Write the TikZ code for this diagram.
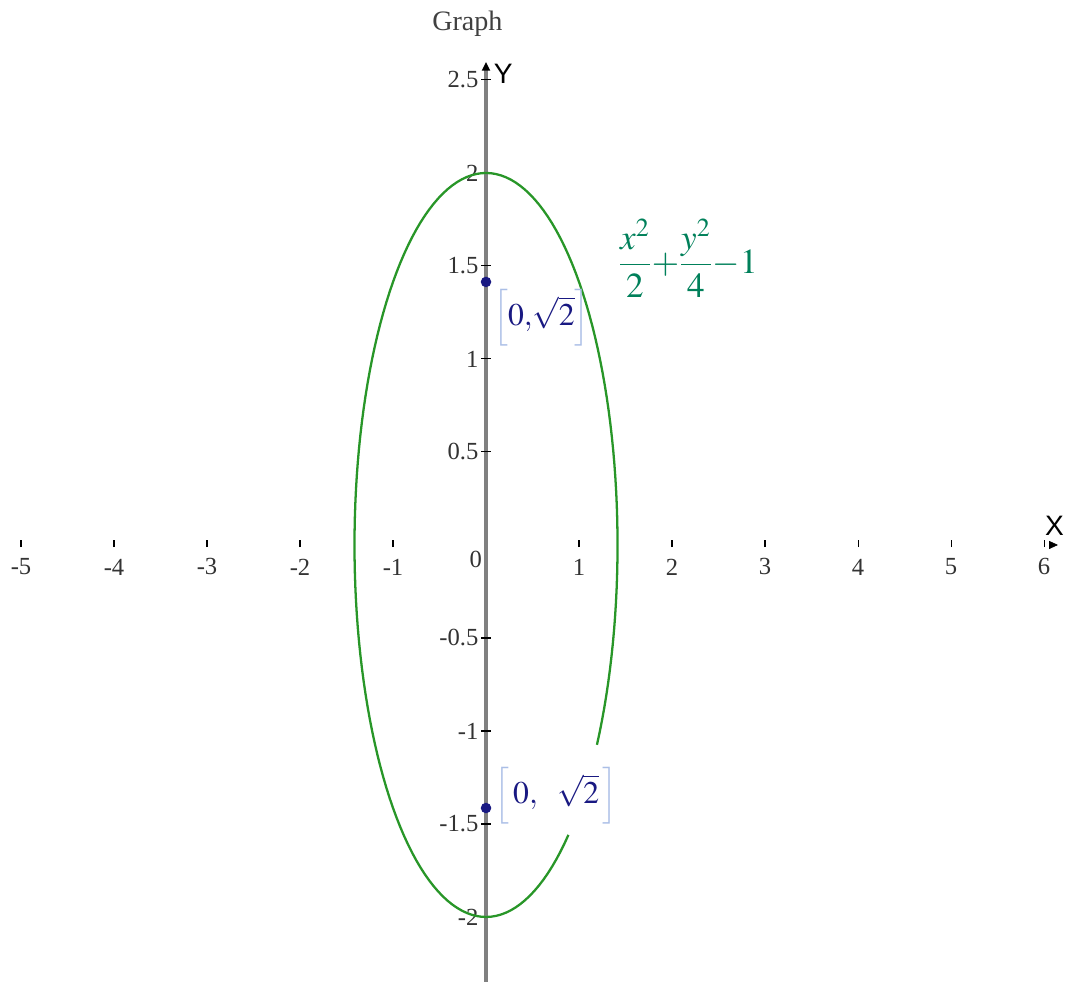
\documentclass[tikz,border=0pt]{standalone}
\usepackage{amsmath}
\usepackage{mathptmx}
\usepackage{fontspec}
\setmainfont{Liberation Serif}
\newfontfamily\axisfont{Liberation Sans}
\usepackage{xcolor}
\usetikzlibrary{positioning, arrows.meta}

\definecolor{axisgray}{RGB}{128,128,128}
\definecolor{ellgreen}{RGB}{40,150,40}
\definecolor{eqgreen}{RGB}{0,128,90}
\definecolor{ptblue}{RGB}{25,25,130}
\definecolor{brackblue}{RGB}{170,190,230}

\begin{document}
\begin{tikzpicture}[
    x=1.86cm, y=3.72cm,
    axis/.style={draw=axisgray, line width=2pt},
    tick/.style={black, line width=0.6pt},
    ticklabel/.style={font=\fontsize{14}{16}\selectfont, text=black!80, inner sep=1pt},
    curve/.style={draw=ellgreen, line width=1.3pt},
    pt/.style={circle, fill=ptblue, inner sep=0pt, minimum size=6pt},
    ptlabel/.style={font=\fontsize{18}{22}\selectfont, text=brackblue, inner sep=1pt}
]
\useasboundingbox (-5.226,-2.349) rectangle (6.247,2.930);

% axes
\coordinate (ybot) at (0,-2.349);
\coordinate (ytop) at (0,2.597);
\draw[axis, -{Triangle[length=5pt, width=4.5pt, color=black]}] (ybot) -- (ytop);
\coordinate (xtail) at (6.06,0);
\coordinate (xtip) at (6.15,0);
\draw[black, -{Triangle[length=5pt, width=4.5pt]}] (xtail) -- (xtip);
\node[font=\axisfont\fontsize{16}{18}\selectfont, right=1pt of ytop, yshift=-7pt] (ylab) {Y};
\node[font=\axisfont\fontsize{16}{18}\selectfont, above=2pt of xtip, xshift=-2pt] (xlab) {X};
\node[font=\fontsize{16}{18}\selectfont, text=black!75] (title) at (-0.2,2.80) {Graph};

% ticks and labels
\foreach \v in {-5,-4,-3,-2,-1,1,2,3,4,5,6} {
  \draw[tick] (\v,-0.012) -- (\v,0.025);
  \node[ticklabel] (xl\v) at (\v,-0.118) {\v};
}
\foreach \v in {-2,-1.5,-1,-0.5,0.5,1,1.5,2,2.5} {
  \draw[tick] (-0.05,\v) -- (0.05,\v);
  \node[ticklabel, anchor=east] (yl\v) at (-0.06,\v) {\v};
}
\node[ticklabel] (orig) at (-0.11,-0.08) {0};

% ellipse x^2/2 + y^2/4 = 1, broken behind the lower label
\draw[curve] plot[domain=-32.5:308.8, samples=160] ({1.4142*cos(\x)},{2*sin(\x)});
\node[font=\fontsize{20}{24}\selectfont, text=eqgreen, inner sep=0pt] (eq) at (2.17,1.54) {$\dfrac{x^2}{2}{+}\dfrac{y^2}{4}{-}1$};

% foci
\node[pt] (p1) at (0,1.4142) {};
\node[pt] (p2) at (0,-1.4142) {};
\node[ptlabel, below right=0.02cm and 0.02cm of p1] (l1) {$\left[\textcolor{ptblue}{0,\!\sqrt{2}}\right]$};
\node[ptlabel, right=0.02cm of p2, yshift=0.25cm] (l2) {$\left[\,\textcolor{ptblue}{0,\ \ \sqrt{2}}\,\right]$};
\end{tikzpicture}
\end{document}
